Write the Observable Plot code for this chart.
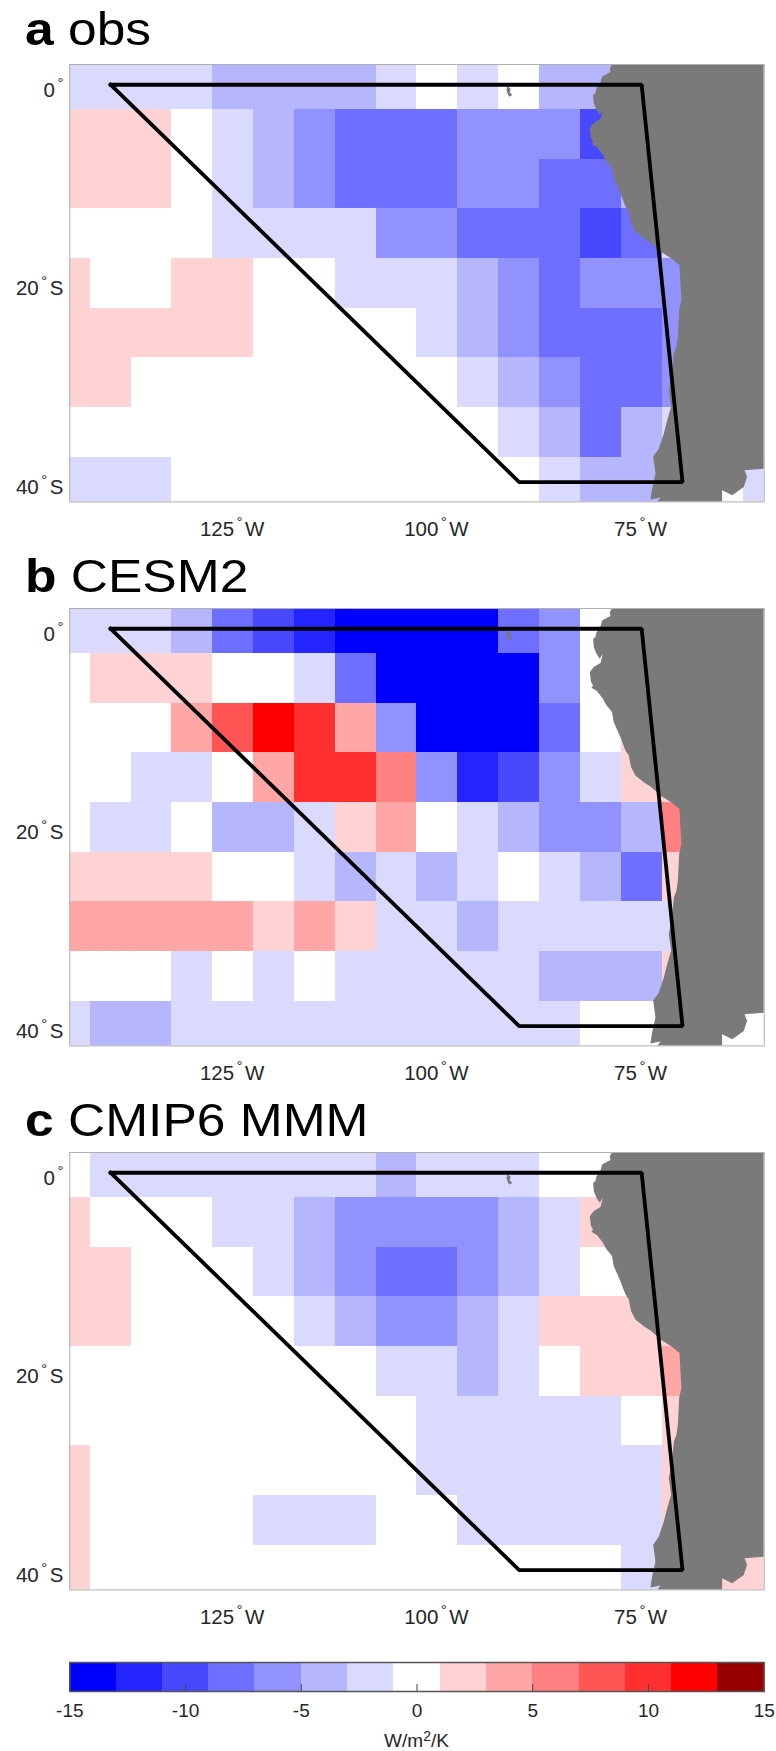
<!DOCTYPE html>
<html>
<head>
<meta charset="utf-8">
<script src="https://cdn.jsdelivr.net/npm/d3@7"></script>
<script src="https://cdn.jsdelivr.net/npm/@observablehq/plot@0.6"></script>
<style>
html,body{margin:0;padding:0;background:#fff;}
#page{position:relative;width:776px;height:1751px;overflow:hidden;font-family:"Liberation Sans",Arial,sans-serif;color:#000;}
.ttl{position:absolute;left:24.5px;font-size:46px;line-height:46px;transform:scaleX(1.12);transform-origin:left top;white-space:pre;}
.unit{position:absolute;left:69.3px;width:694.4px;top:1729px;text-align:center;font-size:19px;line-height:23px;color:#262626;}
.unit sup{font-size:14px;line-height:0;vertical-align:6px;}
</style>
</head>
<body>
<div id="page"></div>
<script>
// grid centres
const lons = [-145,-140,-135,-130,-125,-120,-115,-110,-105,-100,-95,-90,-85,-80,-75,-70,-65,-60];
const lats = [0,-5,-10,-15,-20,-25,-30,-35,-40];

// W/m2/K, class mid-values, rows north to south
const obsValues = [
 [-2,-2,-2,-2,-4,-4,-4,-4,-2,0,-2,0,-4,-4,-4,0,0,0],
 [2,2,2,0,-2,-4,-6,-8,-8,-8,-6,-6,-6,-10,0,0,0,0],
 [2,2,2,0,-2,-4,-6,-8,-8,-8,-6,-6,-8,-8,-4,0,0,0],
 [0,0,0,0,-2,-2,-2,-2,-6,-6,-8,-8,-8,-10,-8,-2,0,0],
 [2,0,0,2,2,0,0,-2,-2,-2,-4,-6,-8,-6,-6,-6,0,0],
 [2,2,2,2,2,0,0,0,0,-2,-4,-6,-8,-8,-8,-6,0,0],
 [2,2,0,0,0,0,0,0,0,0,-2,-4,-6,-8,-8,-6,0,0],
 [0,0,0,0,0,0,0,0,0,0,0,-2,-4,-8,-4,-2,0,0],
 [-2,-2,-2,0,0,0,0,0,0,0,0,0,-2,-4,-4,0,0,-2]
];
const cesm2Values = [
 [-2,-2,-2,-4,-8,-10,-12,-14,-14,-14,-14,-8,-6,0,0,0,0,0],
 [0,2,2,2,0,0,-2,-8,-14,-14,-14,-14,-6,0,0,0,0,0],
 [0,0,0,4,8,12,10,4,-6,-14,-14,-14,-8,0,2,0,0,0],
 [0,0,-2,-2,0,4,10,10,6,-6,-12,-10,-6,-2,2,2,0,0],
 [0,-2,-2,0,-4,-4,-2,2,4,0,-2,-4,-6,-6,-4,6,0,0],
 [2,2,2,2,0,0,-2,-4,-2,-4,-2,0,-2,-4,-8,2,0,0],
 [4,4,4,4,4,2,4,2,-2,-2,-4,-2,-2,-2,-2,-2,0,0],
 [0,0,0,-2,0,-2,0,-2,-2,-2,-2,-2,-4,-4,-4,2,0,0],
 [-2,-4,-4,-2,-2,-2,-2,-2,-2,-2,-2,-2,-2,0,0,0,0,0]
];
const mmmValues = [
 [0,-2,-2,-2,-2,-2,-2,-2,-4,-2,-2,-2,0,0,0,0,0,0],
 [2,0,0,0,-2,-2,-4,-6,-6,-6,-6,-4,-2,2,0,0,0,0],
 [2,2,0,0,0,-2,-4,-6,-8,-8,-6,-4,-2,0,0,0,0,0],
 [2,2,0,0,0,0,-2,-4,-6,-6,-4,-2,2,2,2,2,0,0],
 [0,0,0,0,0,0,0,0,-2,-2,-4,-2,0,2,2,4,0,0],
 [0,0,0,0,0,0,0,0,0,-2,-2,-2,-2,-2,0,2,0,0],
 [2,0,0,0,0,0,0,0,0,-2,-2,-2,-2,-2,-2,2,0,0],
 [2,0,0,0,0,-2,-2,-2,0,0,-2,-2,-2,-2,-2,2,0,0],
 [2,0,0,0,0,0,0,0,0,0,0,0,0,0,-2,0,2,2]
];

const colorThresholds = [-13,-11,-9,-7,-5,-3,-1,1,3,5,7,9,11,13];
const colorRange = ["#0000ff","#2424ff","#4848ff","#6e6eff","#9292ff","#b6b6ff","#dadaff","#ffffff","#ffd3d3","#ffa6a6","#ff8080","#ff5555","#ff2f2f","#ff0000","#990000"];
const barValues = [-14,-12,-10,-8,-6,-4,-2,0,2,4,6,8,10,12,14];
const barTickValues = [-15,-10,-5,0,5,10,15];
const barInnerTicks = [-10,-5,0,5,10];

const lonTicks = [-125,-100,-75];
const latTicks = [0,-20,-40];

// study region outline, lon/lat
const regionBox = [[-140,0],[-75,0],[-70,-40],[-90,-40],[-140,0]];

// South America, lon/lat
const landCoast = [
 [-78.62,2.04],[-78.90,1.68],[-78.82,1.28],[-79.84,0.84],[-80.04,0.23],[-80.53,-0.34],[-80.66,-0.84],[-80.94,-1.01],
 [-80.86,-1.85],[-80.53,-2.52],[-80.13,-3.02],[-79.76,-2.52],[-80.04,-3.46],[-80.86,-3.86],[-81.35,-4.37],[-81.19,-5.38],
 [-80.94,-5.71],[-81.15,-5.95],[-80.45,-6.28],[-79.72,-7.06],[-79.43,-7.56],[-78.62,-8.40],[-78.41,-9.41],[-77.60,-10.92],
 [-76.98,-12.27],[-76.58,-12.77],[-76.29,-13.94],[-75.76,-14.78],[-74.74,-15.46],[-73.92,-15.89],[-73.11,-16.47],[-72.70,-16.80],
 [-71.39,-17.47],[-70.37,-18.14],[-70.25,-19.99],[-70.13,-21.67],[-70.41,-22.68],[-70.57,-25.37],[-70.74,-26.37],[-71.06,-27.05],
 [-71.27,-29.06],[-71.68,-30.74],[-71.39,-32.42],[-71.88,-33.77],[-72.29,-35.11],[-72.90,-36.62],[-73.59,-37.46],[-73.31,-39.14],
 [-73.72,-40.66],[-73.92,-41.76],[-72.70,-41.56],[-73.10,-42],[-65.15,-42],[-65.15,-40.82],[-63.92,-41.33],[-62.50,-40.49],
 [-62.09,-39.48],[-62.41,-38.81],[-60,-38.65],[-60,2.04]
];
const galapagos = [[-91.5,-0.2],[-91.1,-0.4],[-91.2,-0.8],[-90.9,-1.0],[-91.2,-1.15],[-91.4,-0.8],[-91.5,-0.5]];

const panels = [
 {letter:"a", name:"obs", values:obsValues, frameTop:64.3, titleTop:6},
 {letter:"b", name:"CESM2", values:cesm2Values, frameTop:608.3, titleTop:552.7},
 {letter:"c", name:"CMIP6 MMM", values:mmmValues, frameTop:1151.7, titleTop:1097}
];

const page = document.getElementById("page");
const textColor = "#262626";
const fontFamily = '"Liberation Sans",Arial,sans-serif';

function raiseDegree(svg){
  svg.querySelectorAll("text").forEach(t=>{
    const s = t.textContent;
    if(!s.includes("°")) return;
    const [a,b] = s.split("°");
    while(t.firstChild) t.removeChild(t.firstChild);
    const ns = "http://www.w3.org/2000/svg";
    const add = (txt,attrs)=>{const e=document.createElementNS(ns,"tspan");e.textContent=txt;for(const k in attrs)e.setAttribute(k,attrs[k]);t.appendChild(e);};
    add(a,{});
    add("°",{"font-size":"15","dy":"-9","dx":"2.5"});
    if(b) add(b,{"dy":"9","dx":"2.5"});
  });
}

for(const p of panels){
  const title = document.createElement("div");
  title.className = "ttl";
  title.style.top = p.titleTop+"px";
  title.innerHTML = "<b>"+p.letter+"</b> "+p.name;
  page.appendChild(title);

  const cells = [];
  lats.forEach((lat,i)=>lons.forEach((lon,j)=>cells.push({lon,lat,v:p.values[i][j]})));

  const marginTop = 4, marginBottom = 50;
  const svg = Plot.plot({
    width:776, height:437.4+marginTop+marginBottom,
    marginLeft:69.3, marginRight:12.3, marginTop, marginBottom,
    style:{position:"absolute",left:"0px",top:(p.frameTop-marginTop)+"px",background:"transparent",fontFamily,overflow:"visible"},
    x:{domain:[-145,-60],axis:null},
    y:{domain:[-42,2.04],axis:null},
    color:{type:"threshold",domain:colorThresholds,range:colorRange},
    marks:[
      Plot.rect(cells,{x1:d=>d.lon-2.5,x2:d=>d.lon+2.5,y1:d=>d.lat-2.5,y2:d=>d.lat+2.5,fill:"v",clip:true,shapeRendering:"crispEdges"}),
      Plot.line(landCoast,{x:d=>d[0],y:d=>d[1],fill:"#7a7a7a",stroke:"none",clip:true}),
      Plot.line(galapagos,{x:d=>d[0],y:d=>d[1],fill:"#7a7a7a",stroke:"#7a7a7a",strokeWidth:1,clip:true}),
      Plot.line(regionBox,{x:d=>d[0],y:d=>d[1],stroke:"#000",strokeWidth:3.8,strokeLinejoin:"miter",strokeLinecap:"square"}),
      Plot.frame({stroke:"#b0b0b0",strokeWidth:1}),
      Plot.axisX({ticks:lonTicks,tickSize:0,tickPadding:20,label:null,fontSize:20.5,color:textColor,dx:-1,tickFormat:d=>`${-d}°W`}),
      Plot.axisY({ticks:latTicks,tickSize:0,tickPadding:6.4,label:null,fontSize:20.5,color:textColor,dy:5.5,tickFormat:d=>d===0?"0°":`${-d}°S`})
    ]
  });
  raiseDegree(svg);
  page.appendChild(svg);
}

// colour bar
{
  const marginTop = 2, marginBottom = 34, barH = 29;
  const svg = Plot.plot({
    width:776, height:barH+marginTop+marginBottom,
    marginLeft:69.3, marginRight:12.3, marginTop, marginBottom,
    style:{position:"absolute",left:"0px",top:(1661.7-marginTop)+"px",background:"transparent",fontFamily,overflow:"visible"},
    x:{domain:[-15,15],axis:null},
    y:{domain:[0,1],axis:null},
    color:{type:"threshold",domain:colorThresholds,range:colorRange},
    marks:[
      Plot.rect(barValues,{x1:d=>d-1,x2:d=>d+1,y1:0,y2:1,fill:d=>d,shapeRendering:"crispEdges"}),
      Plot.ruleX(barInnerTicks,{y1:0,y2:0.24,stroke:"#444",strokeWidth:1}),
      Plot.frame({stroke:"#555",strokeWidth:1.5}),
      Plot.axisX({ticks:barTickValues,tickSize:0,tickPadding:12,label:null,fontSize:19,color:textColor,tickFormat:d=>String(d)})
    ]
  });
  page.appendChild(svg);
  const unit = document.createElement("div");
  unit.className = "unit";
  unit.innerHTML = "W/m<sup>2</sup>/K";
  page.appendChild(unit);
}
</script>
</body>
</html>
